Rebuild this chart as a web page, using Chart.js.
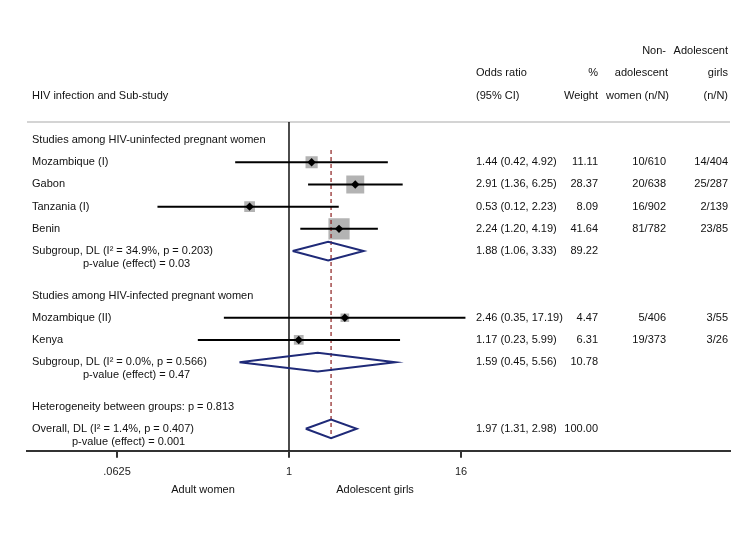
<!DOCTYPE html>
<html><head><meta charset="utf-8">
<script src="https://cdn.jsdelivr.net/npm/chart.js@4.4.0/dist/chart.umd.min.js"></script>
<style>html,body{margin:0;padding:0;background:#fff}#wrap{width:750px;height:546px}</style>
</head><body><div id="wrap"><canvas id="c" width="750" height="546"></canvas></div>
<script>
// ---- data ----
const studyLabels = ["Mozambique (I)", "Gabon", "Tanzania (I)", "Benin", "Mozambique (II)", "Kenya"];
const studyRows = [1, 2, 3, 4, 8, 9];
const studyOR = [1.44, 2.91, 0.53, 2.24, 2.46, 1.17];
const studyLo = [0.42, 1.36, 0.12, 1.20, 0.35, 0.23];
const studyHi = [4.92, 6.25, 2.23, 4.19, 17.19, 5.99];
const studyWeight = [11.11, 28.37, 8.09, 41.64, 4.47, 6.31];
const adultNN = ["10/610", "20/638", "16/902", "81/782", "5/406", "19/373"];
const adolNN = ["14/404", "25/287", "2/139", "23/85", "3/55", "3/26"];

const pooledLabels = ["Subgroup, DL (I\u00B2 = 34.9%, p = 0.203)", "Subgroup, DL (I\u00B2 = 0.0%, p = 0.566)", "Overall, DL (I\u00B2 = 1.4%, p = 0.407)"];
const pooledPLabels = ["p-value (effect) = 0.03", "p-value (effect) = 0.47", "p-value (effect) = 0.001"];
const pooledRows = [5, 10, 13];
const pooledOR = [1.88, 1.59, 1.97];
const pooledLo = [1.06, 0.45, 1.31];
const pooledHi = [3.33, 5.56, 2.98];
const pooledWeight = [89.22, 10.78, 100.00];

const groupLabels = ["Studies among HIV-uninfected pregnant women", "Studies among HIV-infected pregnant women"];
const groupRows = [0, 7];
const hetLabel = "Heterogeneity between groups: p = 0.813";
const hetRow = 12;

const tickValues = [0.0625, 1, 16];
const tickLabels = [".0625", "1", "16"];
const favourLabels = ["Adult women", "Adolescent girls"];
const favourAt = [0.25, 4];

const headerLeft = "HIV infection and Sub-study";
const headerOR = ["Odds ratio", "(95% CI)"];
const headerW = ["%", "Weight"];
const headerAdult = ["Non-", "adolescent", "women (n/N)"];
const headerAdol = ["Adolescent", "girls", "(n/N)"];

// ---- styles / layout ----
const FONT = '11px "Liberation Sans", Arial, sans-serif';
const TXT = '#111';
const NAVY = '#1f2a78';
const DASH = '#8b1c1c';
const colOR = 476, colW = 598, colAdult = 666, colAdol = 728, colLabel = 32;
const pIndent = [83, 83, 72];
const DIAM_H = 0.42;

const fmt = (v) => v.toFixed(2);

const datasets = [];
// null line at OR = 1
datasets.push({ data: [{x: 1, y: -0.81}, {x: 1, y: 13.99}], showLine: true, borderColor: '#000', borderWidth: 1.4, pointRadius: 0, order: 10 });
// weight boxes
datasets.push({
  data: studyOR.map((v, i) => ({x: v, y: studyRows[i]})),
  pointStyle: 'rect', backgroundColor: '#b3b3b3', borderWidth: 0,
  pointRadius: (ctx) => { const w = studyWeight[ctx.dataIndex]; return (2.9 * Math.sqrt(w) + 2.5) / Math.SQRT2; },
  order: 6
});
// overall dashed line
datasets.push({ data: [{x: pooledOR[2], y: 0.45}, {x: pooledOR[2], y: 13.36}], showLine: true, borderColor: DASH, borderWidth: 1.2, borderDash: [4, 3], pointRadius: 0, order: 5 });
// CI lines
studyOR.forEach((v, i) => {
  datasets.push({ data: [{x: studyLo[i], y: studyRows[i]}, {x: studyHi[i], y: studyRows[i]}], showLine: true, borderColor: '#000', borderWidth: 2, pointRadius: 0, order: 3 });
});
// pooled diamonds
pooledOR.forEach((v, i) => {
  const r = pooledRows[i];
  datasets.push({ data: [{x: pooledLo[i], y: r}, {x: v, y: r - DIAM_H}, {x: pooledHi[i], y: r}, {x: v, y: r + DIAM_H}, {x: pooledLo[i], y: r}],
    showLine: true, borderColor: NAVY, borderWidth: 2, pointRadius: 0, fill: false, order: 2 });
});
// point estimates
datasets.push({ data: studyOR.map((v, i) => ({x: v, y: studyRows[i]})), pointStyle: 'rectRot', pointRadius: 4.2, backgroundColor: '#000', borderColor: '#000', borderWidth: 0, order: 1 });

const textPlugin = {
  id: 'forestText',
  beforeDatasetsDraw(chart) {
    const ctx = chart.ctx, a = chart.chartArea;
    ctx.save();
    ctx.strokeStyle = '#c6c6c6'; ctx.lineWidth = 1.5;
    ctx.beginPath(); ctx.moveTo(a.left, a.top); ctx.lineTo(a.right, a.top); ctx.stroke();
    ctx.restore();
  },
  afterDraw(chart) {
    const ctx = chart.ctx, ys = chart.scales.y, xs = chart.scales.x;
    const Y = (r) => ys.getPixelForValue(r);
    ctx.save();
    ctx.font = FONT; ctx.fillStyle = TXT; ctx.textBaseline = 'middle';
    const L = (t, x, y) => { ctx.textAlign = 'left'; ctx.fillText(t, x, y); };
    const R = (t, x, y) => { ctx.textAlign = 'right'; ctx.fillText(t, x, y); };
    const C = (t, x, y) => { ctx.textAlign = 'center'; ctx.fillText(t, x, y); };
    // headers
    L(headerLeft, colLabel, Y(-2));
    L(headerOR[0], colOR, Y(-3)); L(headerOR[1], colOR, Y(-2));
    R(headerW[0], colW, Y(-3)); R(headerW[1], colW, Y(-2));
    R(headerAdult[0], colAdult, Y(-4)); R(headerAdult[1], colAdult + 2, Y(-3)); R(headerAdult[2], colAdult + 3, Y(-2));
    R(headerAdol[0], colAdol, Y(-4)); R(headerAdol[1], colAdol, Y(-3)); R(headerAdol[2], colAdol, Y(-2));
    groupLabels.forEach((t, i) => L(t, colLabel, Y(groupRows[i])));
    studyLabels.forEach((t, i) => {
      const y = Y(studyRows[i]);
      L(t, colLabel, y);
      L(`${fmt(studyOR[i])} (${fmt(studyLo[i])}, ${fmt(studyHi[i])})`, colOR, y);
      R(fmt(studyWeight[i]), colW, y);
      R(adultNN[i], colAdult, y);
      R(adolNN[i], colAdol, y);
    });
    pooledLabels.forEach((t, i) => {
      const y = Y(pooledRows[i]);
      L(t, colLabel, y);
      L(pooledPLabels[i], pIndent[i], y + 13);
      L(`${fmt(pooledOR[i])} (${fmt(pooledLo[i])}, ${fmt(pooledHi[i])})`, colOR, y);
      R(fmt(pooledWeight[i]), colW, y);
    });
    L(hetLabel, colLabel, Y(hetRow));
    favourLabels.forEach((t, i) => C(t, xs.getPixelForValue(favourAt[i]), 490));
    ctx.restore();
  }
};

new Chart(document.getElementById('c'), {
  type: 'scatter',
  data: { datasets },
  options: {
    responsive: false, animation: false, devicePixelRatio: 1,
    layout: { padding: { left: 27, right: 20, top: 122, bottom: 59 } },
    plugins: { legend: { display: false }, tooltip: { enabled: false } },
    elements: { line: { tension: 0 } },
    scales: {
      x: {
        type: 'logarithmic', min: Math.pow(2, -6.093), max: Math.pow(2, 10.256),
        afterBuildTicks: (s) => { s.ticks = tickValues.map(v => ({ value: v })); },
        ticks: { callback: (v) => tickLabels[tickValues.indexOf(v)], font: { size: 11, family: '"Liberation Sans", Arial, sans-serif' }, color: '#222', padding: 8, autoSkip: false, maxRotation: 0 },
        grid: { drawOnChartArea: false, drawTicks: true, tickLength: 7, color: '#333', lineWidth: 2 },
        border: { color: '#333', width: 2 }
      },
      y: { type: 'linear', min: -0.81, max: 13.99, reverse: true, display: false }
    }
  },
  plugins: [textPlugin]
});
</script>
</body></html>
